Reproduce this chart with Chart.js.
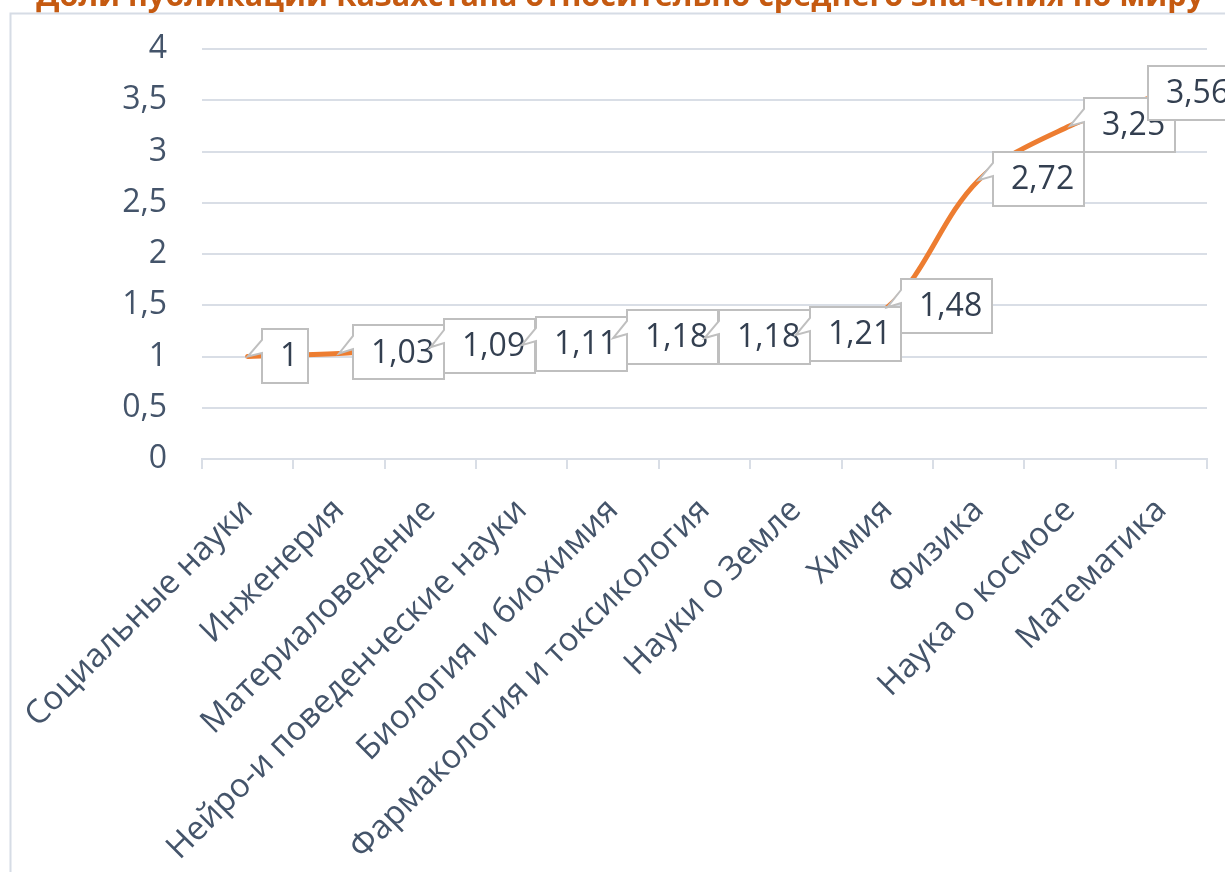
<!DOCTYPE html>
<html lang="ru">
<head>
<meta charset="utf-8">
<title>Доли публикаций Казахстана</title>
<script src="https://cdn.jsdelivr.net/npm/chart.js@4/dist/chart.umd.min.js"></script>
<style>
  html, body { margin: 0; padding: 0; background: #ffffff; }
  canvas { display: block; }
</style>
</head>
<body>
<canvas id="chart" width="1225" height="872"></canvas>
<script>
// Subject areas (x axis)
const categories = [
  'Социальные науки',
  'Инженерия',
  'Материаловедение',
  'Нейро-и поведенческие науки',
  'Биология и биохимия',
  'Фармакология и токсикология',
  'Науки о Земле',
  'Химия',
  'Физика',
  'Наука о космосе',
  'Математика'
];

// Share of publications relative to the world average
const shareValues = [1, 1.03, 1.09, 1.11, 1.18, 1.18, 1.21, 1.48, 2.72, 3.25, 3.56];

// Y axis ticks
const yTicks = [0, 0.5, 1, 1.5, 2, 2.5, 3, 3.5, 4];

const titleText = 'Доли публикаций Казахстана относительно среднего значения по миру';

const FONT = '"Open Sans", "Noto Sans", "DejaVu Sans", sans-serif';
const AXIS_COLOR = '#44546A';
const LABEL_COLOR = '#333F50';
const GRID_COLOR = '#D9DEE6';
const LINE_COLOR = '#ED7D31';

const fmt = v => String(v).replace('.', ',');

// Frame of the chart area (extends beyond the right/bottom edge of the canvas)
const FRAME = { x: 10.5, y: 13.5, w: 1230, h: 900 };

const backgroundAndFrame = {
  id: 'backgroundAndFrame',
  beforeDraw(chart) {
    const ctx = chart.ctx;
    ctx.save();
    ctx.fillStyle = '#ffffff';
    ctx.fillRect(0, 0, chart.width, chart.height);
    ctx.strokeStyle = '#D6DCE5';
    ctx.lineWidth = 2;
    ctx.strokeRect(FRAME.x, FRAME.y, FRAME.w, FRAME.h);
    // title above the frame
    ctx.fillStyle = '#C55A11';
    ctx.font = 'bold 30.5px ' + FONT;
    ctx.textAlign = 'center';
    ctx.textBaseline = 'alphabetic';
    ctx.fillText(titleText, 620, 6);
    ctx.restore();
  }
};

// Callout-style value labels with a wedge pointing at each point
const calloutLabels = {
  id: 'calloutLabels',
  afterDatasetsDraw(chart) {
    const ctx = chart.ctx;
    const meta = chart.getDatasetMeta(0);
    const data = chart.data.datasets[0].data;
    const frameRight = FRAME.x + FRAME.w;
    ctx.save();
    ctx.font = '32px ' + FONT;
    meta.data.forEach((pt, i) => {
      const text = fmt(data[i]);
      const px = pt.x, py = pt.y;
      const tw = ctx.measureText(text).width;
      const bw = Math.round(tw + 28);
      const bh = 54;
      let left = Math.round(px + 14);
      if (left + bw > frameRight - 2) left = Math.round(frameRight - 2 - bw);
      const cy = py - 1;
      const top = Math.round(cy - bh / 2);
      const right = left + bw, bottom = top + bh;
      const tipInside = px >= left && px <= right && py >= top && py <= bottom;

      ctx.beginPath();
      ctx.moveTo(left, top);
      ctx.lineTo(right, top);
      ctx.lineTo(right, bottom);
      ctx.lineTo(left, bottom);
      if (!tipInside) {
        ctx.lineTo(left, top + 24);
        ctx.lineTo(px, py);
        ctx.lineTo(left, top + 11);
      }
      ctx.closePath();
      ctx.fillStyle = '#ffffff';
      ctx.fill();
      ctx.strokeStyle = '#BFBFBF';
      ctx.lineWidth = 2;
      ctx.stroke();

      ctx.fillStyle = LABEL_COLOR;
      ctx.textAlign = 'left';
      ctx.textBaseline = 'middle';
      ctx.fillText(text, left + 18, cy + 1);
    });
    ctx.restore();
  }
};

new Chart(document.getElementById('chart'), {
  type: 'line',
  data: {
    labels: categories,
    datasets: [{
      data: shareValues,
      borderColor: LINE_COLOR,
      borderWidth: 5,
      tension: 0.35,
      pointRadius: 0,
      fill: false,
      borderCapStyle: 'round'
    }]
  },
  options: {
    responsive: false,
    animation: false,
    devicePixelRatio: 1,
    layout: { padding: { top: 49, right: 18, left: 0, bottom: 0 } },
    plugins: {
      legend: { display: false },
      title: { display: false },
      tooltip: { enabled: false }
    },
    scales: {
      x: {
        type: 'category',
        offset: true,
        grid: {
          display: true,
          drawOnChartArea: false,
          drawTicks: true,
          tickLength: 10,
          color: GRID_COLOR,
          lineWidth: 2,
          offset: true
        },
        border: { display: true, color: GRID_COLOR, width: 2 },
        ticks: {
          autoSkip: false,
          minRotation: 45,
          maxRotation: 45,
          padding: 22,
          color: AXIS_COLOR,
          font: { family: FONT, size: 33 }
        },
        afterFit(scale) { scale.height = 413; }
      },
      y: {
        min: 0,
        max: 4,
        afterBuildTicks(scale) { scale.ticks = yTicks.map(v => ({ value: v })); },
        grid: {
          color: GRID_COLOR,
          lineWidth: 2,
          drawTicks: true,
          tickLength: 33,
          tickColor: 'rgba(0,0,0,0)'
        },
        border: { display: false },
        ticks: {
          padding: 2,
          color: AXIS_COLOR,
          font: { family: FONT, size: 32 },
          callback: v => fmt(v)
        },
        afterFit(scale) { scale.width = 202; }
      }
    }
  },
  plugins: [backgroundAndFrame, calloutLabels]
});
</script>
</body>
</html>
